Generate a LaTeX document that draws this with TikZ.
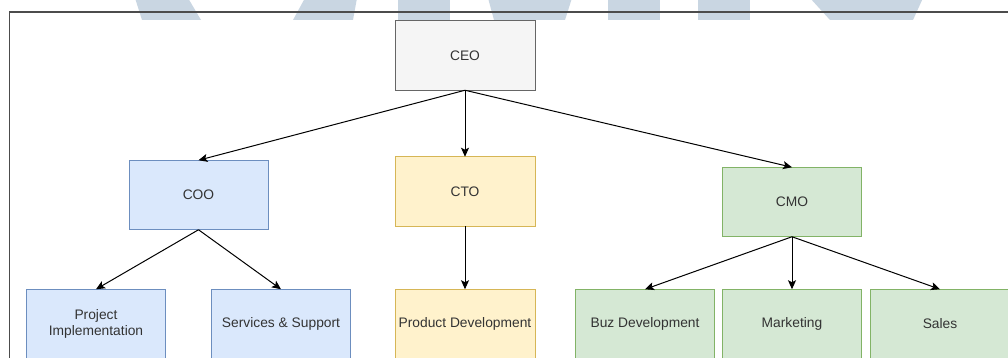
\documentclass[tikz,border=0pt]{standalone}
\usepackage{fontspec}
\setmainfont{Liberation Sans}
\usetikzlibrary{arrows.meta}
\definecolor{wm}{HTML}{C9D6E2}
\definecolor{grayfill}{HTML}{F5F5F5}\definecolor{graydraw}{HTML}{666666}
\definecolor{bluefill}{HTML}{DAE8FC}\definecolor{bluedraw}{HTML}{6C8EBF}
\definecolor{yelfill}{HTML}{FFF2CC}\definecolor{yeldraw}{HTML}{D6B656}
\definecolor{grnfill}{HTML}{D5E8D4}\definecolor{grndraw}{HTML}{82B366}
\definecolor{txt}{HTML}{333333}
\tikzset{
  box/.style={rectangle, minimum width=139pt, minimum height=69.5pt, inner sep=0pt, outer sep=0pt,
    line width=1pt, text=txt, align=center, font=\fontsize{13.8}{16.8}\selectfont},
  graybox/.style={box, fill=grayfill, draw=graydraw},
  bluebox/.style={box, fill=bluefill, draw=bluedraw},
  yelbox/.style={box, fill=yelfill, draw=yeldraw},
  grnbox/.style={box, fill=grnfill, draw=grndraw},
  link/.style={line width=1pt, draw=black, -{Stealth[length=9pt,width=8pt,inset=2pt]}},
}
\begin{document}
\begin{tikzpicture}[x=1pt,y=-1pt]
\useasboundingbox (0,0) rectangle (1008,358);
\clip (0,0) rectangle (1008,358);
\fill[white] (0,0) rectangle (1008,358);
% watermark
\fill[wm] (135,-2) -- (188,-2) -- (201,20) -- (142,20) -- cycle;
\fill[wm] (305,-2) -- (357,-2) -- (353,20) -- (293,20) -- cycle;
\fill[wm] (398,-2) rectangle (450,20);
\fill[wm] (488,-2) -- (572,-2) -- (565,20) -- (494,20) -- cycle;
\fill[wm] (608,-2) rectangle (660,20);
\fill[wm] (698,-2) rectangle (750,20);
\fill[wm] (810,-2) -- (923,-2) -- (913,20) -- (830,20) -- cycle;
% frame
\draw[line width=1.3pt, draw=black!70] (9.5,370) -- (9.5,12) -- (1020,12);
% nodes
\node[graybox, minimum width=140pt] (ceo) at (465,55.5) {CEO};
\node[bluebox] (coo) at (198.5,195) {COO};
\node[yelbox, minimum width=140pt] (cto) at (465,191.5) {CTO};
\node[grnbox] (cmo) at (792,202) {CMO};
\node[bluebox] (pi) at (96,324) {Project\\Implementation};
\node[bluebox] (ss) at (281,324) {Services \& Support};
\node[yelbox, minimum width=140pt] (pd) at (465,324) {Product Development};
\node[grnbox] (bd) at (645,324) {Buz Development};
\node[grnbox] (mk) at (792,324) {Marketing};
\node[grnbox] (sa) at (940,324) {Sales};
% connectors
\draw[link] (ceo.south) -- (coo.north);
\draw[link] (ceo.south) -- (cto.north);
\draw[link] (ceo.south) -- (cmo.north);
\draw[link] (coo.south) -- (pi.north);
\draw[link] (coo.south) -- (ss.north);
\draw[link] (cto.south) -- (pd.north);
\draw[link] (cmo.south) -- (bd.north);
\draw[link] (cmo.south) -- (mk.north);
\draw[link] (cmo.south) -- (sa.north);
\end{tikzpicture}
\end{document}
